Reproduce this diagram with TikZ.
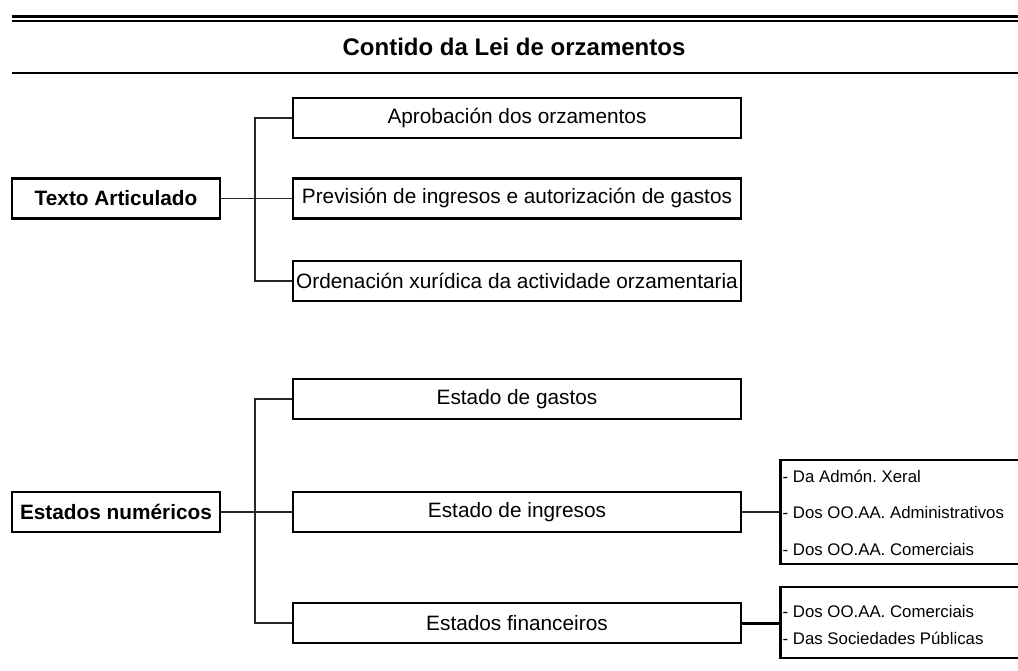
\documentclass[tikz,border=0pt]{standalone}
\usepackage{fontspec}
\setmainfont{Liberation Sans}
\frenchspacing
\begin{document}
\begin{tikzpicture}[x=1pt,y=-1pt,
  box/.style={draw=black, fill=white, line width=2.6pt, inner sep=0pt, minimum height=40pt, font=\fontsize{20.8}{24}\selectfont},
  bigbox/.style={box, minimum width=448pt},
  leftbox/.style={box, minimum width=208pt, font=\fontsize{20.8}{24}\selectfont\bfseries},
  subbox/.style={draw=black, fill=white, line width=2.6pt, inner sep=0pt, minimum width=260pt},
  subtxt/.style={anchor=west, inner sep=0pt, font=\fontsize{16.8}{20}\selectfont\frenchspacing},
  conn/.style={draw=black!85, line width=1.5pt},
  thickconn/.style={draw=black, line width=3pt}]
\useasboundingbox (0,0) rectangle (1018,671);
\begin{scope}
\clip (0,0) rectangle (1018,671);
% header rules
\draw[line width=3pt] (12,16.8) -- (1030,16.8);
\draw[line width=2.2pt] (12,21.2) -- (1030,21.2);
\draw[line width=2pt] (12,73.5) -- (1030,73.5);
\node[font=\fontsize{24}{28}\selectfont\bfseries] (title) at (514,47) {Contido da Lei de orzamentos};

% trunk coordinates
\coordinate (j1) at (255,198.5);
\coordinate (j2) at (255,512);

% connectors (drawn first)
\draw[conn] (116,198.5) -- (517,198.5);
\draw[conn] (517,118) -| (j1) |- (517,281);
\draw[conn] (116,512) -- (904,512);
\draw[conn] (517,399) -| (j2) |- (517,623);
\draw[thickconn] (517,623) -- (904,623);

% top group
\node[leftbox] (ta) at (116,198.5) {Texto Articulado};
\node[bigbox] (ap) at (517,118) {Aprobación dos orzamentos};
\node[bigbox] (pr) at (517,198.5) {Previsión de ingresos e autorización de gastos};
\node[bigbox] (or) at (517,281) {Ordenación xurídica da actividade orzamentaria};

% bottom group
\node[leftbox] (en) at (116,512) {Estados numéricos};
\node[bigbox] (eg) at (517,399) {Estado de gastos};
\node[bigbox] (ei) at (517,512) {Estado de ingresos};
\node[bigbox] (ef) at (517,623) {Estados financeiros};

% sub boxes
\node[subbox, minimum height=104pt, anchor=west] (s1) at (779,512) {};
\node[subbox, minimum height=71pt, anchor=west] (s2) at (779,622.5) {};
\node[subtxt] (s1a) at (782.5,476) {- Da Admón. Xeral};
\node[subtxt] (s1b) at (782.5,512) {- Dos OO.AA. Administrativos};
\node[subtxt] (s1c) at (782.5,549) {- Dos OO.AA. Comerciais};
\node[subtxt] (s2a) at (782.5,611) {- Dos OO.AA. Comerciais};
\node[subtxt] (s2b) at (782.5,638.5) {- Das Sociedades Públicas};
\end{scope}
\end{tikzpicture}
\end{document}
